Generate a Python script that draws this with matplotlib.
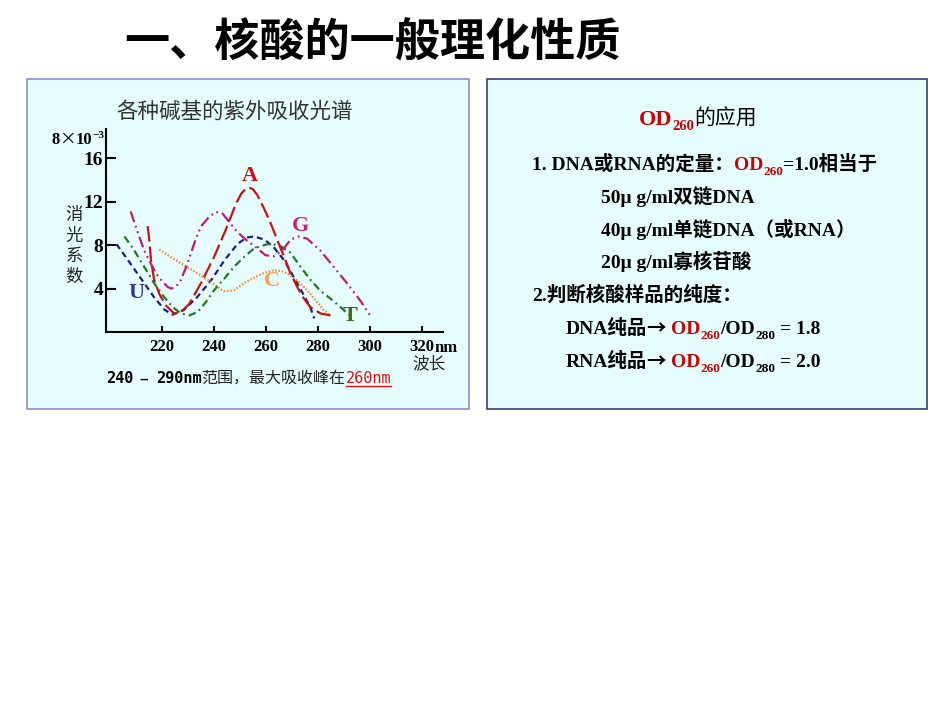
import matplotlib
matplotlib.use("Agg")
import matplotlib.pyplot as plt
from matplotlib.patches import Rectangle
from matplotlib.lines import Line2D

plt.rcParams['font.family'] = ['Liberation Serif', 'Noto Sans CJK SC', 'DejaVu Sans']

# ---------------- data ----------------
U_nm = [202.5, 207, 212, 217, 221, 224, 228.5, 233.5, 239, 244, 249, 252.5, 255.5, 259.5, 263, 267, 271, 274.5, 277, 278.5]
U_val = [8.1, 6.6, 4.9, 3.2, 2.05, 1.6, 2.05, 3.2, 4.8, 6.6, 8.1, 8.7, 8.8, 8.5, 7.8, 6.6, 4.9, 3.4, 2.3, 1.25]

A_nm = [214.5, 215, 215.8, 217, 219, 221.5, 224.7, 227.3, 230.5, 235, 240, 244.5, 248.5, 250.5, 252.2, 253.6,
        255.0, 256.7, 259.2, 261.8, 264.3, 267, 269.4, 272, 274.5, 277, 281, 284.8]
A_val = [9.75, 8.8, 6.6, 4.8, 3.5, 2.45, 1.7, 1.8, 2.6, 4.5, 6.9, 9.4, 11.85, 12.75, 13.2, 13.3,
         13.15, 12.6, 11.4, 10.0, 8.5, 6.9, 5.4, 4.15, 3.1, 2.3, 1.7, 1.53]

G_nm = [208, 210.5, 213.2, 215.5, 217.7, 220, 222.2, 223.6, 225.5, 227.3, 229.8, 232.4, 234.9, 238.1, 240.7,
        243.3, 245.8, 249, 252.8, 256.7, 259.8, 263, 266.2, 269.4, 272.6, 275.8, 280.9, 286, 291.1, 296.2, 300]
G_val = [11.1, 9.3, 7.5, 6.4, 5.4, 4.7, 4.15, 4.0, 4.2, 4.8, 6.3, 8.15, 9.7, 10.6, 11.07,
         10.9, 10.15, 9.2, 8.4, 7.7, 7.07, 6.98, 7.5, 8.5, 8.8, 8.6, 7.5, 6.0, 4.5, 2.9, 1.53]

T_nm = [205.6, 209.4, 213.2, 217, 220.9, 224.1, 227.3, 230.5, 233.7, 236.9, 240, 243.9, 247.7, 251.5,
        255.4, 259.2, 261.8, 265.6, 269.4, 273.3, 277.1, 280.9, 284.8, 288.6, 292]
T_val = [8.8, 7.5, 6.0, 4.5, 3.2, 2.3, 1.7, 1.53, 1.84, 2.76, 3.84, 4.9, 6.0, 6.9,
         7.7, 8.0, 8.15, 7.9, 7.3, 6.0, 4.8, 3.8, 3.07, 2.3, 1.56]

C_nm = [219, 223.4, 228.5, 233.7, 238.8, 243.9, 247.7, 251.5, 255.4, 259.2, 263, 266, 268.2, 272, 275.8, 279.7, 282.2, 284.8]
C_val = [7.6, 6.9, 6.15, 5.4, 4.6, 3.75, 3.84, 4.5, 5.0, 5.45, 5.7, 5.6, 5.4, 4.75, 3.84, 2.76, 2.0, 1.53]

x_ticks = [220, 240, 260, 280, 300, 320]
y_ticks = [4, 8, 12, 16]

base_labels = ["U", "A", "G", "C", "T"]
label_nm = [210.4, 253.7, 273.3, 262.1, 292.4]
label_val = [3.6, 14.4, 9.75, 4.7, 1.45]

# ---------------- figure ----------------
W, H = 950, 713
fig = plt.figure(figsize=(W / 100, H / 100), dpi=100)
fig.patch.set_facecolor('white')
renderer = fig.canvas.get_renderer()

def fx(x):
    return x / W

def fy(y):
    return 1 - y / H

# panels
fill = '#e6fdfd'
fig.add_artist(Rectangle((fx(27), fy(409)), (469 - 27) / W, (409 - 79) / H, transform=fig.transFigure,
                         facecolor=fill, edgecolor='#8d90c4', lw=1.2, zorder=-5))
fig.add_artist(Rectangle((fx(487), fy(409)), (927 - 487) / W, (409 - 79) / H, transform=fig.transFigure,
                         facecolor=fill, edgecolor='#3a3d78', lw=1.2, zorder=-5))

SERIF = ['Liberation Serif', 'Noto Sans CJK SC', 'DejaVu Sans']
CJK = ['Noto Sans CJK SC', 'DejaVu Sans']


def runs(x, y, parts):
    """parts: list of (text, size, color, weight, dy, family). y is the baseline in pixels."""
    cx = x
    arts = []
    for t, size, color, weight, dy, fam in parts:
        tx = fig.text(fx(cx), fy(y + dy), t, fontsize=size, color=color, fontweight=weight,
                      family=fam, ha='left', va='baseline')
        bb = tx.get_window_extent(renderer)
        arts.append((tx, cx, bb.width))
        cx += bb.width
    return cx, arts

# main title
fig.text(fx(372), fy(43), "一、核酸的一般理化性质", fontsize=32.5, fontweight='bold',
         family=CJK, ha='center', va='center', color='black')

# ---------------- chart ----------------
ax = fig.add_axes([fx(106), fy(332), (442.7 - 106) / W, (332 - 129) / H])
ax.patch.set_visible(False)
ax.set_xlim(198.5, 327.9)
ax.set_ylim(0, 18.7)
for s in ['top', 'right']:
    ax.spines[s].set_visible(False)
for s in ['left', 'bottom']:
    ax.spines[s].set_linewidth(1.5)
    ax.spines[s].set_color('black')

lw = 1.6
ax.plot(U_nm, U_val, color='#1c1c8c', lw=lw, dashes=(2.7, 1.8))
ax.plot(C_nm, C_val, color='#f08a30', lw=lw, dashes=(0.7, 0.8))
ax.plot(T_nm, T_val, color='#1f7a1f', lw=lw, dashes=(3.4, 1.8, 0.8, 1.8))
ax.plot(G_nm, G_val, color='#c2187a', lw=lw, dashes=(5.0, 1.8, 0.8, 1.8, 0.8, 1.8))
ax.plot(A_nm, A_val, color='#cc1111', lw=lw, dashes=(7.0, 2.2))

label_colors = ['#333399', '#cc1111', '#c8207f', '#f4a055', '#3d6b1a']
for lab, xx, yy, c in zip(base_labels, label_nm, label_val, label_colors):
    ax.text(xx, yy, lab, color=c, fontsize=16, fontweight='bold', family=SERIF,
            ha='center', va='center')

ax.set_xticks(x_ticks)
ax.set_xticklabels([str(v) for v in x_ticks])
ax.set_yticks(y_ticks)
ax.set_yticklabels([str(v) for v in y_ticks])
ax.tick_params(axis='y', direction='in', length=7, width=1.5, pad=2, labelsize=14)
ax.tick_params(axis='x', direction='in', length=4, width=1.5, pad=5, labelsize=12)
for t in ax.get_xticklabels() + ax.get_yticklabels():
    t.set_fontweight('bold')
    t.set_family(SERIF)

# "nm" after 320, on the same baseline as the tick label
fig.canvas.draw()
lab320 = ax.get_xticklabels()[-1]
bb320 = lab320.get_window_extent(renderer)
fig.text(bb320.x1 / W, bb320.y0 / H + 3.0 / H, "nm", fontsize=12, fontweight='bold', family=SERIF,
         ha='left', va='baseline')
fig.text(fx(429), fy(364), "波长", fontsize=12, family=CJK, ha='center', va='center', color='#222222')

# chart title
fig.text(fx(235), fy(112), "各种碱基的紫外吸收光谱", fontsize=15.5, family=CJK, ha='center', va='center',
         color='#333333')

# scale marker 8x10^-3
runs(51, 144, [("8", 12, 'black', 'bold', 0, SERIF),
               ("×", 12, 'black', 'normal', 0, CJK),
               ("10", 12, 'black', 'bold', 0, SERIF),
               ("−3", 8, 'black', 'bold', -6, SERIF)])

# y label stacked
for i, ch in enumerate("消光系数"):
    fig.text(fx(74), fy(215 + i * 20.5), ch, fontsize=12.5, family=CJK, ha='center', va='center',
             color='#222222')

# caption under chart
end, arts = runs(106, 383, [("240", 11, 'black', 'bold', 0, ['DejaVu Sans Mono']),
                            (" – ", 9, 'black', 'bold', 0, ['DejaVu Sans Mono']),
                            ("290nm", 11, 'black', 'bold', 0, ['DejaVu Sans Mono']),
                            ("范围，最大吸收峰在", 11.5, '#222222', 'normal', 0, CJK),
                            ("260nm", 11, '#e01010', 'normal', 0, ['DejaVu Sans Mono'])])
tx, sx, w = arts[-1]
fig.add_artist(Line2D([fx(sx), fx(sx + w)], [fy(386), fy(386)], transform=fig.transFigure,
                      color='#e01010', lw=1.0))

# ---------------- right panel ----------------
RED = '#cc0000'
fs = 14
runs(639, 125, [("OD", 16, RED, 'bold', 0, SERIF),
                ("260", 10.5, RED, 'bold', 5, SERIF),
                ("的应用", 15, 'black', 'normal', 0, CJK)])

runs(532, 170, [("1. DNA或RNA的定量：", fs, 'black', 'bold', 0, SERIF),
                ("OD", fs, RED, 'bold', 0, SERIF),
                ("260", 9.5, RED, 'bold', 5, SERIF),
                ("=1.0相当于", fs, 'black', 'bold', 0, SERIF)])
runs(601, 203, [("50μ g/ml双链DNA", fs, 'black', 'bold', 0, SERIF)])
runs(601, 236, [("40μ g/ml单链DNA（或RNA）", fs, 'black', 'bold', 0, SERIF)])
runs(601, 268, [("20μ g/ml寡核苷酸", fs, 'black', 'bold', 0, SERIF)])
runs(532, 301, [("2.判断核酸样品的纯度：", fs, 'black', 'bold', 0, SERIF)])
for yb, kind, ratio in [(334, "DNA", "1.8"), (367, "RNA", "2.0")]:
    runs(566, yb, [(kind + "纯品", fs, 'black', 'bold', 0, SERIF),
                   ("→ ", fs, 'black', 'bold', 0, CJK),
                   ("OD", fs, RED, 'bold', 0, SERIF),
                   ("260", 9.5, RED, 'bold', 5, SERIF),
                   ("/OD", fs, 'black', 'bold', 0, SERIF),
                   ("280", 9.5, 'black', 'bold', 5, SERIF),
                   (" = " + ratio, fs, 'black', 'bold', 0, SERIF)])

fig.savefig("out.png", dpi=100, facecolor='white')
